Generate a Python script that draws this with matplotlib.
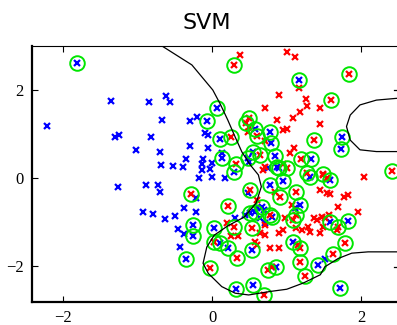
import numpy as np
import matplotlib
matplotlib.use("Agg")
import matplotlib.pyplot as plt

# class 1 (blue) points, plain
blue_x = [-2.21, -1.35, -0.84, -0.62, -0.56, -0.67, -0.29, -0.20, -1.30, -1.25, -0.82, -1.02,
          -0.69, -0.29, -0.35, -0.39, -0.68, -0.52, -0.17, -1.26, -0.88, -0.73, -0.69, -0.93,
          -0.79, -0.63, -0.50, -0.37, -0.21, -0.46, -0.37, -0.43, -0.21, -0.09, -0.05, -0.05,
          0.13, -0.12, -0.14, 0.00, 0.49, -0.14, -0.03, 0.00, 0.18, 0.60, 0.64, 0.31,
          0.44, 0.69, 1.11, 1.51, 0.71, 0.48, 0.75]
blue_y = [1.18, 1.75, 1.72, 1.87, 1.73, 1.31, 1.29, 1.39, 0.94, 0.98, 0.94, 0.63,
          0.60, 0.73, 0.43, 0.26, 0.30, 0.27, -0.01, -0.20, -0.16, -0.16, -0.33, -0.77,
          -0.81, -0.93, -0.86, -0.69, -0.77, -1.17, -1.28, -1.56, -0.46, 1.02, 0.98, 0.68,
          0.56, 0.43, 0.32, 0.33, 0.37, 0.18, 0.20, 0.03, -0.01, -0.69, -0.92, -0.92,
          -0.84, -0.73, -0.69, -1.85, -1.03, -0.34, 0.22]

# class 1 support vectors
blue_sv_x = [-1.81, 1.16, 0.06, -0.07, 0.58, 0.78, 0.79, 0.11, 0.14, 0.48, 0.55, 0.84,
             0.87, 1.74, 1.73, 1.32, -0.35, -0.25, -0.25, 0.30, 0.89, 1.31, 0.78, 0.95,
             1.18, 0.67, 0.80, 1.58, 1.58, 1.82, 0.03, 0.11, 0.22, 0.54, 0.32, 0.55,
             0.86, 1.09, 1.42, 1.71, 0.58, 0.51]
blue_sv_y = [2.62, 2.23, 1.60, 1.30, 1.11, 1.05, 0.80, 0.88, 0.45, 0.45, 0.58, 0.51,
             0.26, 0.94, 0.65, 0.43, -1.84, -1.06, -1.31, 0.13, 0.22, 0.03, -0.16, -0.08,
             -0.61, -0.65, -0.88, -0.05, -0.99, -0.98, -1.14, -1.48, -1.60, -1.64, -2.53, -2.43,
             -2.02, -1.45, -1.98, -2.51, -0.77, -0.80]

# class 2 (red) points, plain
red_x = [0.37, 1.01, 1.11, 1.16, 0.89, 1.26, 1.27, 1.45, 1.18, 1.09, 0.87, 1.44,
         0.71, 0.95, 1.00, 1.10, 1.04, 0.49, 0.71, 0.71, 0.95, 2.03, 0.68, 1.49,
         0.84, 1.45, 1.54, 1.07, 0.60, 0.98, 0.71, 0.95, 0.89, 1.13, 1.20, 1.29,
         1.36, 1.40, 1.47, 1.51, 1.49, 1.31, 1.58, 1.76, 1.82, 1.69, 1.95, 1.56,
         1.54, 0.20, 0.26, 0.35, 0.60, 0.71, 0.78, 0.89, 0.80, 1.45, 1.67, 0.64,
         0.58, 1.15, 0.48]
red_y = [2.80, 2.87, 2.74, 2.05, 1.89, 1.80, 1.64, 1.58, 1.51, 1.36, 1.32, 1.23,
         1.58, 1.09, 1.11, 0.68, 0.56, 1.15, 0.83, 0.24, 0.32, 0.02, 0.18, 0.07,
         -0.31, -0.27, -0.35, -0.61, -0.50, -0.92, -1.07, -1.18, -1.26, -1.14, -1.18, -1.11,
         -0.92, -0.95, -0.88, -0.92, -1.11, -1.22, -0.37, -0.43, -0.39, -0.67, -0.77, -0.84,
         -0.01, -1.03, -1.33, -1.32, -1.52, -1.30, -1.60, -1.60, -2.02, -1.26, -1.18, -1.26,
         -1.45, -1.52, 1.05]

# class 2 support vectors
red_sv_x = [0.29, 1.84, 1.59, 0.50, 0.46, 0.60, 0.25, 0.32, 0.64, 1.36, 1.19, 2.41,
            1.00, 1.27, 1.48, 1.13, 0.91, 0.51, 0.22, 0.29, 0.53, 0.78, 1.13, 1.09,
            1.68, -0.28, 0.02, 0.33, -0.03, 0.70, 0.75, 1.18, 1.18, 1.25, 1.78, 1.62]
red_sv_y = [2.57, 2.36, 1.77, 1.36, 1.24, 0.96, 0.92, 0.32, 0.52, 0.86, 0.43, 0.16,
            0.22, 0.11, 0.08, -0.31, -0.43, -0.27, -0.63, -1.11, -1.14, -0.84, -0.84, -0.95,
            -1.11, -0.37, -1.45, -1.82, -2.05, -2.66, -2.09, -1.60, -1.90, -2.24, -1.47, -1.73]

# decision boundary pieces
bnd1_x = [-0.67, -0.27, 0.01, 0.11, 0.21, 0.31, 0.40, 0.51, 0.62, 0.66, 0.59, 0.43, 0.21,
          0.03, -0.07, -0.12, -0.05, 0.13, 0.31, 0.49, 0.78, 1.00, 1.22, 1.45, 1.51,
          1.69, 1.87, 2.09, 2.48, 2.7]
bnd1_y = [3.00, 2.57, 2.00, 1.68, 1.32, 0.93, 0.59, 0.30, 0.07, -0.20, -0.57, -0.89, -1.09,
          -1.30, -1.57, -1.94, -2.17, -2.47, -2.62, -2.66, -2.58, -2.53, -2.39, -2.20, -2.02,
          -1.83, -1.71, -1.68, -1.68, -1.68]
bnd2_x = [2.7, 2.47, 2.20, 1.98, 1.85, 1.80, 1.85, 1.98, 2.20, 2.47, 2.7]
bnd2_y = [1.81, 1.81, 1.77, 1.66, 1.43, 1.17, 0.86, 0.64, 0.60, 0.60, 0.60]
bnd3_x = [2.44, 2.7]
bnd3_y = [2.00, 2.00]
bnd4_x = [2.44, 2.7]
bnd4_y = [-2.02, -2.02]

fig = plt.figure(figsize=(3.97, 3.25), dpi=100)
ax = fig.add_axes([32 / 397, 23 / 325, 378 / 397, 256 / 325])

mk = dict(linestyle="none", marker="x", markersize=5, markeredgewidth=1.6)
ax.plot(blue_x, blue_y, color="blue", **mk)
ax.plot(blue_sv_x, blue_sv_y, color="blue", **mk)
ax.plot(red_x, red_y, color="red", **mk)
ax.plot(red_sv_x, red_sv_y, color="red", **mk)

sv_x = blue_sv_x + red_sv_x
sv_y = blue_sv_y + red_sv_y
ax.plot(sv_x, sv_y, linestyle="none", marker="o", markersize=10.5,
        markerfacecolor="none", markeredgecolor="#00e600", markeredgewidth=1.4)

for bx, by in [(bnd1_x, bnd1_y), (bnd2_x, bnd2_y), (bnd3_x, bnd3_y), (bnd4_x, bnd4_y)]:
    ax.plot(bx, by, color="black", linewidth=0.9)

ax.set_xlim(-2.41, 2.65)
ax.set_ylim(-2.82, 3.0)
ax.set_xticks([-2, 0, 2])
ax.set_yticks([-2, 0, 2])
ax.set_xticklabels(["\u22122", "0", "2"], family="Liberation Serif", fontsize=12)
ax.set_yticklabels(["\u22122", "0", "2"], family="Liberation Serif", fontsize=12)
ax.tick_params(direction="in", length=4, top=True, right=True, width=0.8, pad=6)
ax.spines["left"].set_linewidth(1.6)
ax.spines["bottom"].set_linewidth(1.6)
ax.spines["top"].set_linewidth(0.8)

ax.set_title("SVM", fontsize=16, x=0.463, pad=12, family="DejaVu Sans")

fig.savefig("out.png", dpi=100)
